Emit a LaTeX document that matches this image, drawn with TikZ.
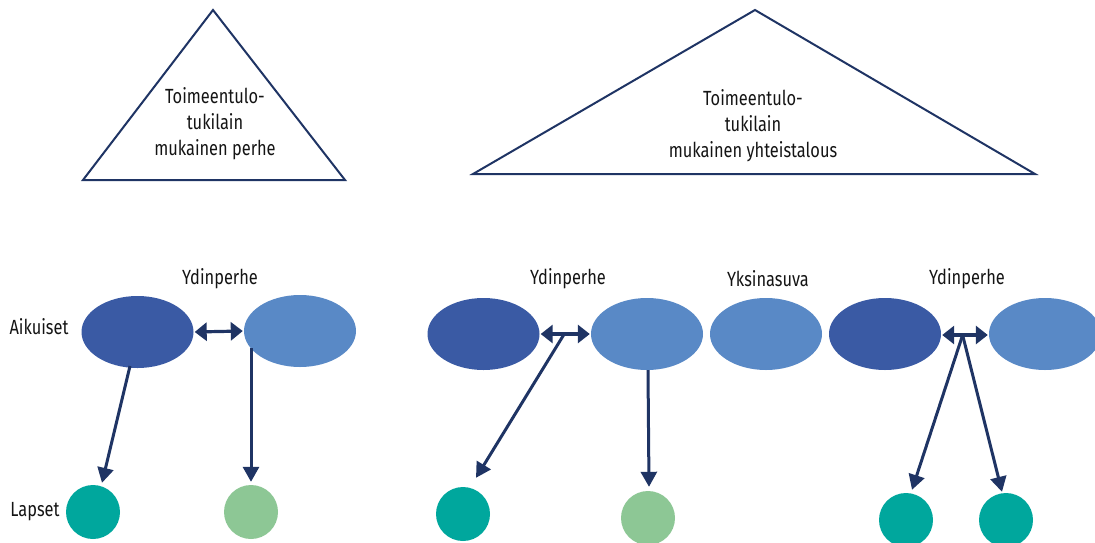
\documentclass[tikz,border=0pt]{standalone}
\usepackage{fontspec}
\setmainfont{Fira Sans}[FakeStretch=0.8]
\usetikzlibrary{arrows.meta,shapes.geometric}
\definecolor{navy}{HTML}{1F3464}
\definecolor{darkblue}{HTML}{3A5AA4}
\definecolor{lightblue}{HTML}{5989C6}
\definecolor{teal}{HTML}{00A79D}
\definecolor{paleg}{HTML}{8DC795}
\tikzset{
  lbl/.style={font=\fontsize{20.5}{26}\selectfont, text=black!92, inner sep=0pt},
  adult/.style={ellipse, minimum width=112pt, minimum height=72pt, inner sep=0pt},
  dark/.style={adult, fill=darkblue},
  light/.style={adult, fill=lightblue},
  child/.style={circle, minimum size=54pt, inner sep=0pt},
  kid/.style={child, fill=teal},
  kidpale/.style={child, fill=paleg},
  link/.style={navy, line width=3.2pt, {Triangle[length=12pt,width=18pt]}-{Triangle[length=12pt,width=18pt]}, shorten <=1pt, shorten >=1pt},
  down/.style={navy, line width=3pt, -{Triangle[length=15pt,width=16pt]}},
  tri/.style={navy, line width=2pt, line join=miter}
}
\begin{document}
\begin{tikzpicture}[x=1pt,y=-1pt]
\useasboundingbox (0,0) rectangle (1095,542);

% triangles
\draw[tri] (213,10) -- (345,180) -- (83,180) -- cycle;
\draw[tri] (755,10) -- (1035,174) -- (473,174) -- cycle;
\node[lbl, align=center] (t1) at (215,124) {Toimeentulo-\\tukilain\\mukainen perhe};
\node[lbl, align=center] (t2) at (753,126) {Toimeentulo-\\tukilain\\mukainen yhteistalous};

% row labels
\node[lbl] (aik) at (39,327) {Aikuiset};
\node[lbl] (lap) at (35,512) {Lapset};

% adults
\node[dark]  (a1) at (137.5,332) {};
\node[light] (a2) at (300,331) {};
\node[dark]  (a3) at (483.5,334) {};
\node[light] (a4) at (647,334) {};
\node[light] (a5) at (766,334) {};
\node[dark]  (a6) at (885,334) {};
\node[light] (a7) at (1045,334) {};

% group labels
\node[lbl] (y1) at (220,279) {Ydinperhe};
\node[lbl] (y2) at (568,279) {Ydinperhe};
\node[lbl] (y3) at (768,279) {Yksinasuva};
\node[lbl] (y4) at (967,279) {Ydinperhe};

% children
\node[kid]     (c1) at (93,512) {};
\node[kidpale] (c2) at (251,512) {};
\node[kid]     (c3) at (463,514) {};
\node[kidpale] (c4) at (648,518) {};
\node[kid]     (c5) at (906,520) {};
\node[kid]     (c6) at (1006,520) {};

% couple links
\draw[link] (a1.east) -- (a2.west);
\draw[link] (a3.east) -- coordinate[pos=0.48] (m1) (a4.west);
\draw[link] (a6.east |- 0,335) -- coordinate[pos=0.45] (m2) (a7.west |- 0,335);

% parent to child
\draw[down] ([xshift=-7.5pt,yshift=-34pt]a1.center) -- ([xshift=9pt,yshift=2pt]c1.north);
\draw[down] ([xshift=-49pt,yshift=-17pt]a2.center) -- ([yshift=3pt]c2.north);
\draw[down] (m1) -- ([xshift=13pt,yshift=9pt]c3.north);
\draw[down] ([xshift=1pt]a4.south) -- ([xshift=1pt,yshift=4pt]c4.north);
\draw[down] (m2) -- ([xshift=6pt,yshift=3pt]c5.north);
\draw[down] (m2) -- ([xshift=-4pt,yshift=1pt]c6.north);
\end{tikzpicture}
\end{document}
